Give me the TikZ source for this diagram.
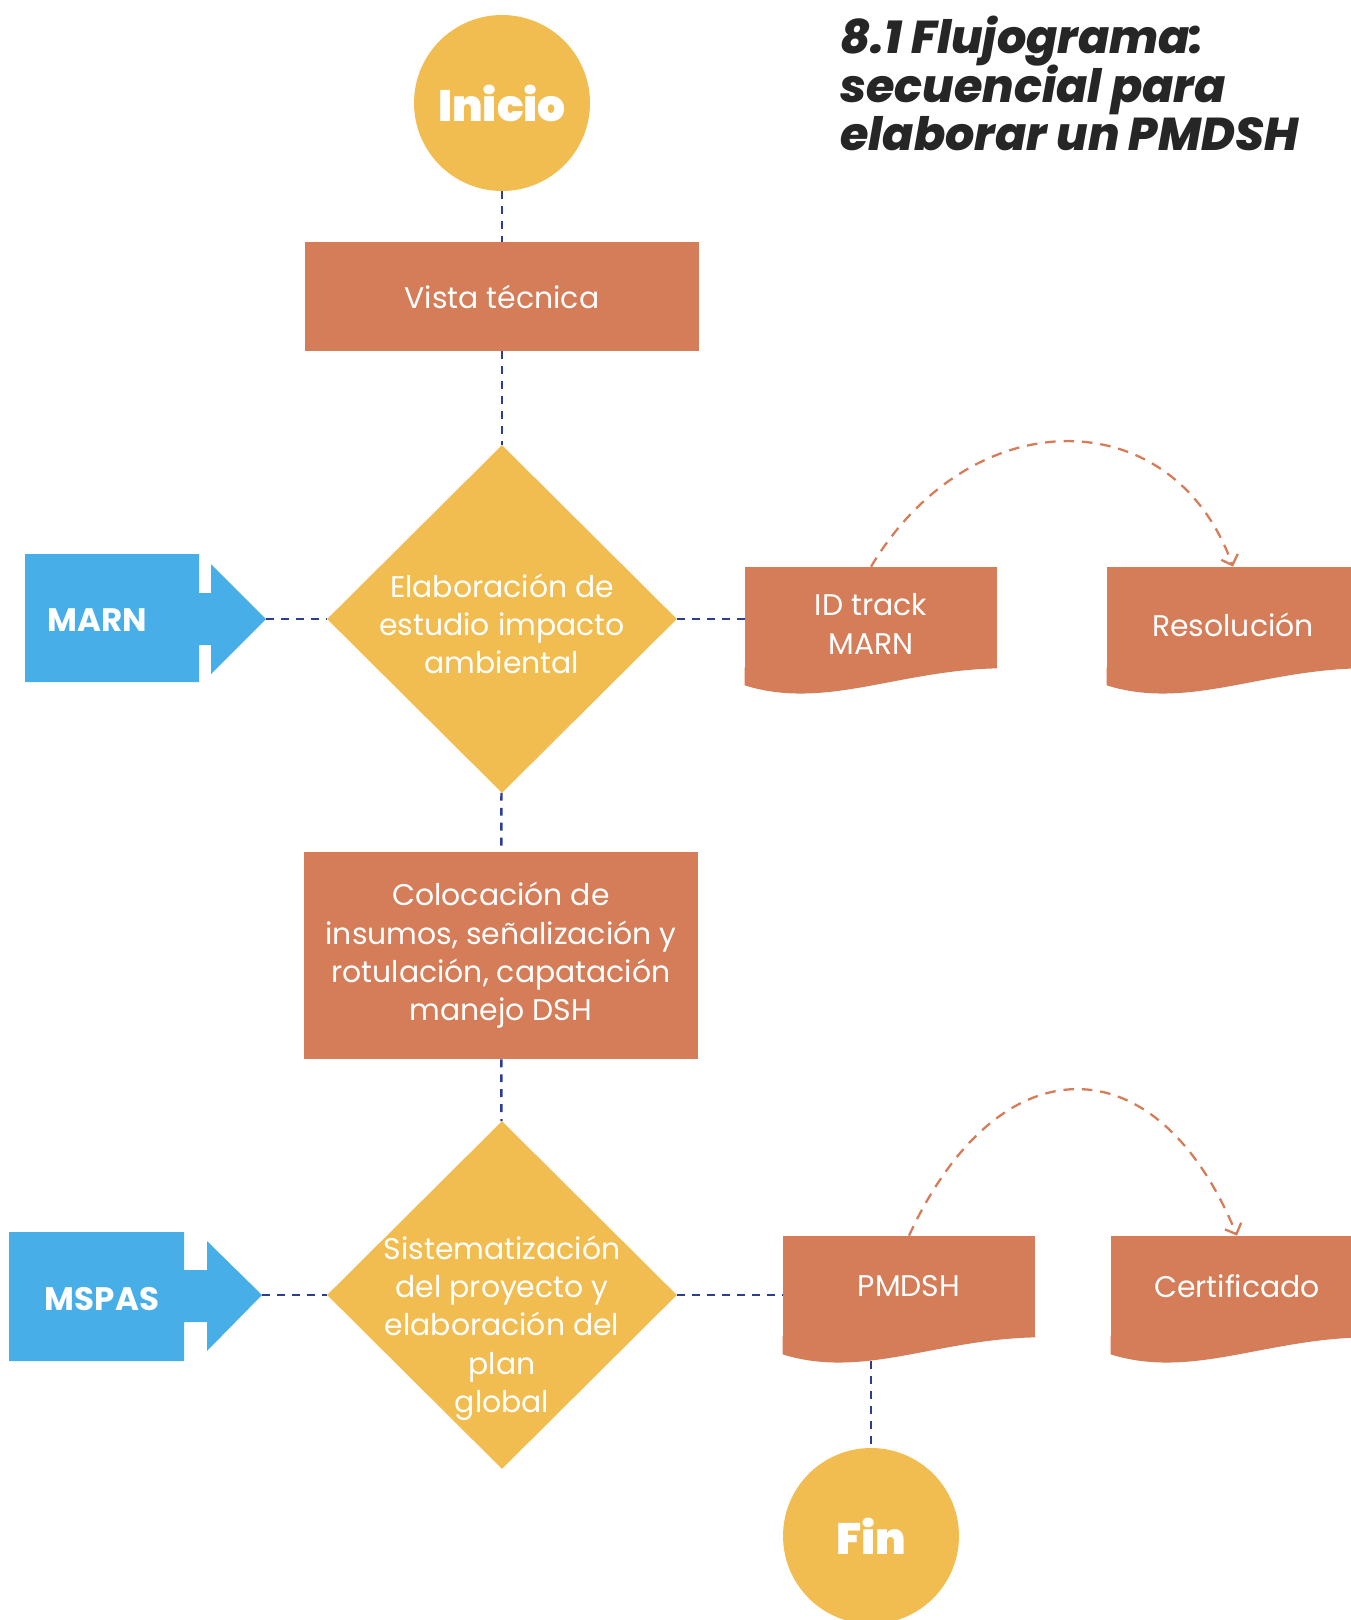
\documentclass[tikz,border=0pt]{standalone}
\usepackage{fontspec}
\setmainfont{Poppins}
\newfontfamily\headfont{Poppins ExtraBold Italic}
\newfontfamily\heavyfont{Poppins Black}
\usetikzlibrary{shapes.geometric,arrows.meta,calc}

\definecolor{docorange}{HTML}{D47D58}
\definecolor{sunyellow}{HTML}{F2BD50}
\definecolor{agencyblue}{HTML}{47AEE8}
\definecolor{linkblue}{HTML}{2C3E8F}
\definecolor{inkgray}{HTML}{262626}

\newcommand{\flowfont}{\fontsize{17}{21.8}\selectfont}
% wavy bottom under a document node
\newcommand{\docwave}[1]{%
  \fill[docorange] ($(#1.south east)+(0,-1)$) -- (#1.south east)
    .. controls +(-100,2) and +(80,25) .. ($(#1.south west)+(0,17)$)
    -- ($(#1.south west)+(0,-1)$) -- cycle;}

\tikzset{
  flow/.style={draw=linkblue, line width=1.4pt, dash pattern=on 4.5pt off 4pt},
  loopback/.style={draw=docorange, line width=1.3pt, dash pattern=on 6pt off 4.5pt,
    -{Straight Barb[length=5pt,width=10pt]}},
  terminal/.style={circle, fill=sunyellow, minimum size=3.52cm, inner sep=0,
    text=white, font=\heavyfont\fontsize{25}{30}\selectfont},
  process/.style={rectangle, fill=docorange, minimum width=7.88cm, inner sep=0,
    text=white, align=center, font=\flowfont},
  decision/.style={diamond, fill=sunyellow, minimum width=7cm, minimum height=6.96cm, inner sep=0},
  flowtext/.style={text=white, align=center, font=\flowfont, inner sep=0},
  docbox/.style={rectangle, fill=docorange, minimum width=5.04cm, minimum height=2.02cm,
    inner sep=0, text=white, align=center, font=\flowfont},
  agencytext/.style={text=white, font=\bfseries\fontsize{18.5}{22}\selectfont, inner sep=0},
  heading/.style={text=inkgray, align=left, inner sep=0,
    font=\headfont\fontsize{26.2}{27.5}\selectfont}
}

\begin{document}
\lineskiplimit=-50pt
\begin{tikzpicture}[x=0.02cm, y=-0.02cm]
\useasboundingbox (0,0) rectangle (1350,1620);

\node[heading, anchor=north west] (title) at (840,16) {8.1 Flujograma:\\secuencial para\\elaborar un PMDSH};

% main column
\node[terminal] (start) at (502,103) {Inicio};
\node[process, minimum height=2.18cm] (visit) at (502,296.5) {Vista técnica};
\node[decision] (eia) at (502,619) {};
\node[flowtext] (eiatext) at (502,624) {Elaboración de\\estudio impacto\\ambiental};
\node[process, minimum height=4.14cm] (inputs) at (501,955.5) {Colocación de\\insumos, señalización y\\rotulación, capatación\\manejo DSH};
\node[decision] (sys) at (502,1295) {};
\node[flowtext] (systext) at (502,1328) {Sistematización\\del proyecto y\\elaboración del\\plan\\global};

% agencies
\fill[agencyblue] (25,554) -- (199,554) -- (199,593) -- (211,593) -- (211,564) -- (266,619)
  -- (211,674) -- (211,645) -- (199,645) -- (199,682) -- (25,682) -- cycle;
\coordinate (marntip) at (266,619);
\node[agencytext] (marn) at (97,620) {MARN};

\fill[agencyblue] (9,1232) -- (184,1232) -- (184,1270) -- (207,1270) -- (207,1241) -- (262,1295)
  -- (207,1351) -- (207,1322) -- (184,1322) -- (184,1361) -- (9,1361) -- cycle;
\coordinate (mspastip) at (262,1295);
\node[agencytext] (mspas) at (102,1299) {MSPAS};

% documents
\node[docbox, label={[flowtext, yshift=-0.13cm]center:ID track\\MARN}] (idtrack) at (871,617.5) {};
\docwave{idtrack}
\node[docbox, text height=0.75cm] (resol) at (1233,617.5) {Resolución};
\docwave{resol}
\node[docbox] (pmdsh) at (909,1286.5) {PMDSH};
\docwave{pmdsh}
\node[docbox] (cert) at (1237,1286.5) {Certificado};
\docwave{cert}

\node[terminal] (fin) at (871,1536) {Fin};

% connectors
\draw[flow] (start) -- (visit);
\draw[flow] (visit) -- (eia);
\draw[flow] (eia) -- (inputs);
\draw[flow] (inputs) -- (sys);
\draw[flow] (marntip) -- (eia.west);
\draw[flow] (eia.east) -- (eia.east -| idtrack.west);
\draw[flow] (mspastip) -- (sys.west);
\draw[flow] (sys.east) -- (sys.east -| pmdsh.west);
\draw[flow] ($(fin.north |- pmdsh.south)+(0,24)$) -- (fin.north);

\draw[loopback] (idtrack.north) .. controls +(100,-167) and +(-60,-167) .. (resol.north);
\draw[loopback] (pmdsh.north) .. controls +(90,-195) and +(-80,-195) .. (cert.north);

\end{tikzpicture}
\end{document}
